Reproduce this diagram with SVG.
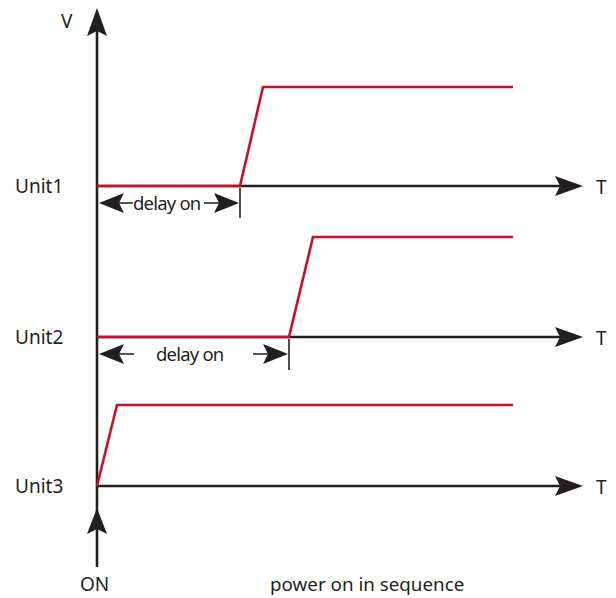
<svg xmlns="http://www.w3.org/2000/svg" width="616" height="598" viewBox="0 0 616 598">
<style>
.ax{stroke:#231f20;stroke-width:2.6;fill:none}
.sig{stroke:#c8102e;stroke-width:2.6;fill:none;stroke-linejoin:miter}
.dim{stroke:#231f20;stroke-width:1.6;fill:none}
.lbl{font-family:"Noto Sans","Liberation Sans",sans-serif;font-size:19px;fill:#231f20}
.dl{font-family:"Noto Sans","Liberation Sans",sans-serif;font-size:18.5px;fill:#231f20;letter-spacing:-0.8px}
.ah{fill:#231f20}
</style>
<rect width="616" height="598" fill="#ffffff"/>
<g id="connectors">
  <path class="ax" d="M97,567 V30"/>
  <path class="ah" d="M97,8 L107,36 L97,31 L87,36 Z"/>
  <path class="ah" d="M97,508 L107,534 L97,529 L87,534 Z"/>
  <path class="ax" d="M97,186 H560"/>
  <path class="ah" d="M583,186 L555,176 L560,186 L555,196 Z"/>
  <path class="ax" d="M97,337 H560"/>
  <path class="ah" d="M583,337 L555,327 L560,337 L555,347 Z"/>
  <path class="ax" d="M97,486 H560"/>
  <path class="ah" d="M583,486 L555,476 L560,486 L555,496 Z"/>
</g>
<g id="unit1-signal"><path class="sig" d="M97,186 H240 L263,87 H513"/></g>
<g id="unit2-signal"><path class="sig" d="M97,337 H289 L313,237 H513"/></g>
<g id="unit3-signal"><path class="sig" d="M97,486 L117,405 H513"/></g>
<g id="delay1">
  <path class="dim" d="M240,188 V218"/>
  <path class="dim" d="M118,203 H133 M204,203 H220"/>
  <path class="ah" d="M99,203 L124,193 L119,203 L124,213 Z"/>
  <path class="ah" d="M239,203 L214,193 L219,203 L214,213 Z"/>
  <text class="dl" x="133" y="210">delay on</text>
</g>
<g id="delay2">
  <path class="dim" d="M118,354 H134 M253,354 H270"/>
  <path class="dim" d="M289,339 V370"/>
  <path class="ah" d="M99,354 L124,344 L119,354 L124,364 Z"/>
  <path class="ah" d="M288,354 L263,344 L268,354 L263,364 Z"/>
  <text class="dl" x="156" y="361">delay on</text>
</g>
<g id="labels">
  <text class="lbl" x="61" y="28">V</text>
  <text class="lbl" x="15" y="193">Unit1</text>
  <text class="lbl" x="15" y="344">Unit2</text>
  <text class="lbl" x="15" y="493">Unit3</text>
  <text class="lbl" x="596" y="194">T</text>
  <text class="lbl" x="596" y="345">T</text>
  <text class="lbl" x="596" y="494">T</text>
  <text class="lbl" x="80" y="591">ON</text>
  <text class="lbl" x="270" y="591" style="font-size:18.8px">power on in sequence</text>
</g>
</svg>
